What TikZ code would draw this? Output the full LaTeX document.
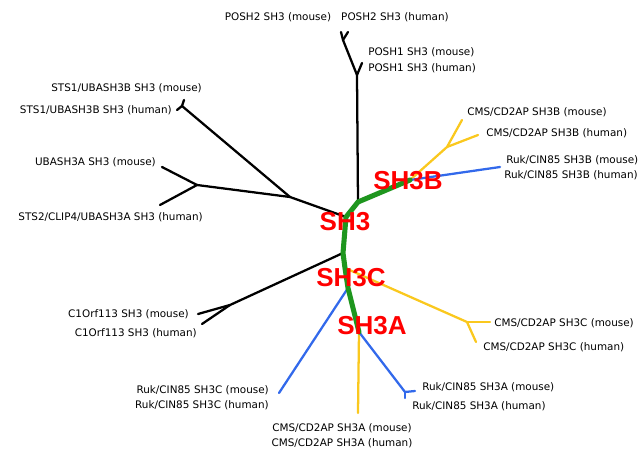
\documentclass[tikz,border=0pt]{standalone}
\usepackage{fontspec}
\setmainfont{DejaVu Sans}
\newfontfamily\cladefont{Liberation Sans}
\definecolor{clyellow}{RGB}{250,200,30}
\definecolor{clblue}{RGB}{50,105,235}
\definecolor{clgreen}{RGB}{30,150,30}
\begin{document}
\begin{tikzpicture}[x=0.75pt,y=-0.75pt,
    leaf/.style={font=\fontsize{7.8}{9}\selectfont,inner sep=0pt},
    clade/.style={font=\cladefont\bfseries\fontsize{19.5}{20}\selectfont,text=red,inner sep=0pt},
    branch/.style={line width=1.7pt,line cap=round,line join=round}]
      \useasboundingbox (0,0) rectangle (643,449);
      % backbone and inner forks
      \path
        (410,180) coordinate (b)
        (358,202) coordinate (0)
        (346,217) coordinate (1)
        (343,253) coordinate (2)
        (345,268) coordinate (3)
        (348,288) coordinate (c)
        (359,332) coordinate (a)
        (357,75) coordinate (p1)
        (343,40) coordinate (p2)
        (290,197) coordinate (j)
        (182,106) coordinate (s1)
        (197,185) coordinate (u)
        (230,305) coordinate (k)
        (447,147) coordinate (yb)
        (467,322) coordinate (yc)
        (405,392) coordinate (ra);
      % tips
      \path
        (341,32) coordinate (t1)
        (348,32) coordinate (t2)
        (362,63) coordinate (t3)
        (184,100) coordinate (t4)
        (177,110) coordinate (t5)
        (162,167) coordinate (t6)
        (160,205) coordinate (t7)
        (198,314) coordinate (t8)
        (202,324) coordinate (t9)
        (462,120) coordinate (t10)
        (478,135) coordinate (t11)
        (500,167) coordinate (t12)
        (490,322) coordinate (t13)
        (476,342) coordinate (t14)
        (358,413) coordinate (t15)
        (279,393) coordinate (t16)
        (415,391) coordinate (t17)
        (405,398) coordinate (t18);
      \begin{scope}[branch]
        \draw (0) to (p1);
        \draw (p1) to (p2);
        \draw (p2) to (t1);
        \draw (p2) to (t2);
        \draw (p1) to (t3);
        \draw (1) to (j);
        \draw (j) to (s1);
        \draw (s1) to (t4);
        \draw (s1) to (t5);
        \draw (j) to (u);
        \draw (u) to (t6);
        \draw (u) to (t7);
        \draw (2) to (k);
        \draw (k) to (t8);
        \draw (k) to (t9);
      \end{scope}
      \begin{scope}[branch,clyellow]
        \draw (b) to (yb);
        \draw (yb) to (t10);
        \draw (yb) to (t11);
        \draw (3) to (yc);
        \draw (yc) to (t13);
        \draw (yc) to (t14);
        \draw (a) to (t15);
      \end{scope}
      \begin{scope}[branch,clblue]
        \draw (b) to (t12);
        \draw (c) to (t16);
        \draw (a) to (ra);
        \draw (ra) to (t17);
        \draw (ra) to (t18);
      \end{scope}
      \draw[branch,clgreen,line width=3.8pt] (b) -- (0) -- (1) -- (2) -- (3) -- (c) -- (a);
      % leaf labels
      \node[leaf] (l1) at (278,17) {POSH2 SH3 (mouse)};
      \node[leaf] (l2) at (395,17) {POSH2 SH3 (human)};
      \node[leaf,anchor=west] (l3) at (368,52) {POSH1 SH3 (mouse)};
      \node[leaf,anchor=west] (l4) at (368,68) {POSH1 SH3 (human)};
      \node[leaf,anchor=east] (l5) at (202,88) {STS1/UBASH3B SH3 (mouse)};
      \node[leaf,anchor=east] (l6) at (172,110) {STS1/UBASH3B SH3 (human)};
      \node[leaf,anchor=east] (l7) at (156,162) {UBASH3A SH3 (mouse)};
      \node[leaf,anchor=east] (l8) at (203,217) {STS2/CLIP4/UBASH3A SH3 (human)};
      \node[leaf,anchor=west] (l9) at (467,112) {CMS/CD2AP SH3B (mouse)};
      \node[leaf,anchor=west] (l10) at (486,133) {CMS/CD2AP SH3B (human)};
      \node[leaf,anchor=west] (l11) at (506,160) {Ruk/CIN85 SH3B (mouse)};
      \node[leaf,anchor=west] (l12) at (504,175) {Ruk/CIN85 SH3B (human)};
      \node[leaf,anchor=east] (l13) at (189,314) {C1Orf113 SH3 (mouse)};
      \node[leaf,anchor=east] (l14) at (197,333) {C1Orf113 SH3 (human)};
      \node[leaf,anchor=east] (l15) at (269,390) {Ruk/CIN85 SH3C (mouse)};
      \node[leaf,anchor=east] (l16) at (269,405) {Ruk/CIN85 SH3C (human)};
      \node[leaf] (l17) at (342,428) {CMS/CD2AP SH3A (mouse)};
      \node[leaf] (l18) at (342,443) {CMS/CD2AP SH3A (human)};
      \node[leaf,anchor=west] (l19) at (494,323) {CMS/CD2AP SH3C (mouse)};
      \node[leaf,anchor=west] (l20) at (483,347) {CMS/CD2AP SH3C (human)};
      \node[leaf,anchor=west] (l21) at (422,387) {Ruk/CIN85 SH3A (mouse)};
      \node[leaf,anchor=west] (l22) at (412,406) {Ruk/CIN85 SH3A (human)};
      % clade labels
      \node[clade] (sh3) at (345,222) {SH3};
      \node[clade] (sh3b) at (408,181) {SH3B};
      \node[clade] (sh3c) at (351,278) {SH3C};
      \node[clade] (sh3a) at (372,326) {SH3A};
    \end{tikzpicture}
\end{document}
